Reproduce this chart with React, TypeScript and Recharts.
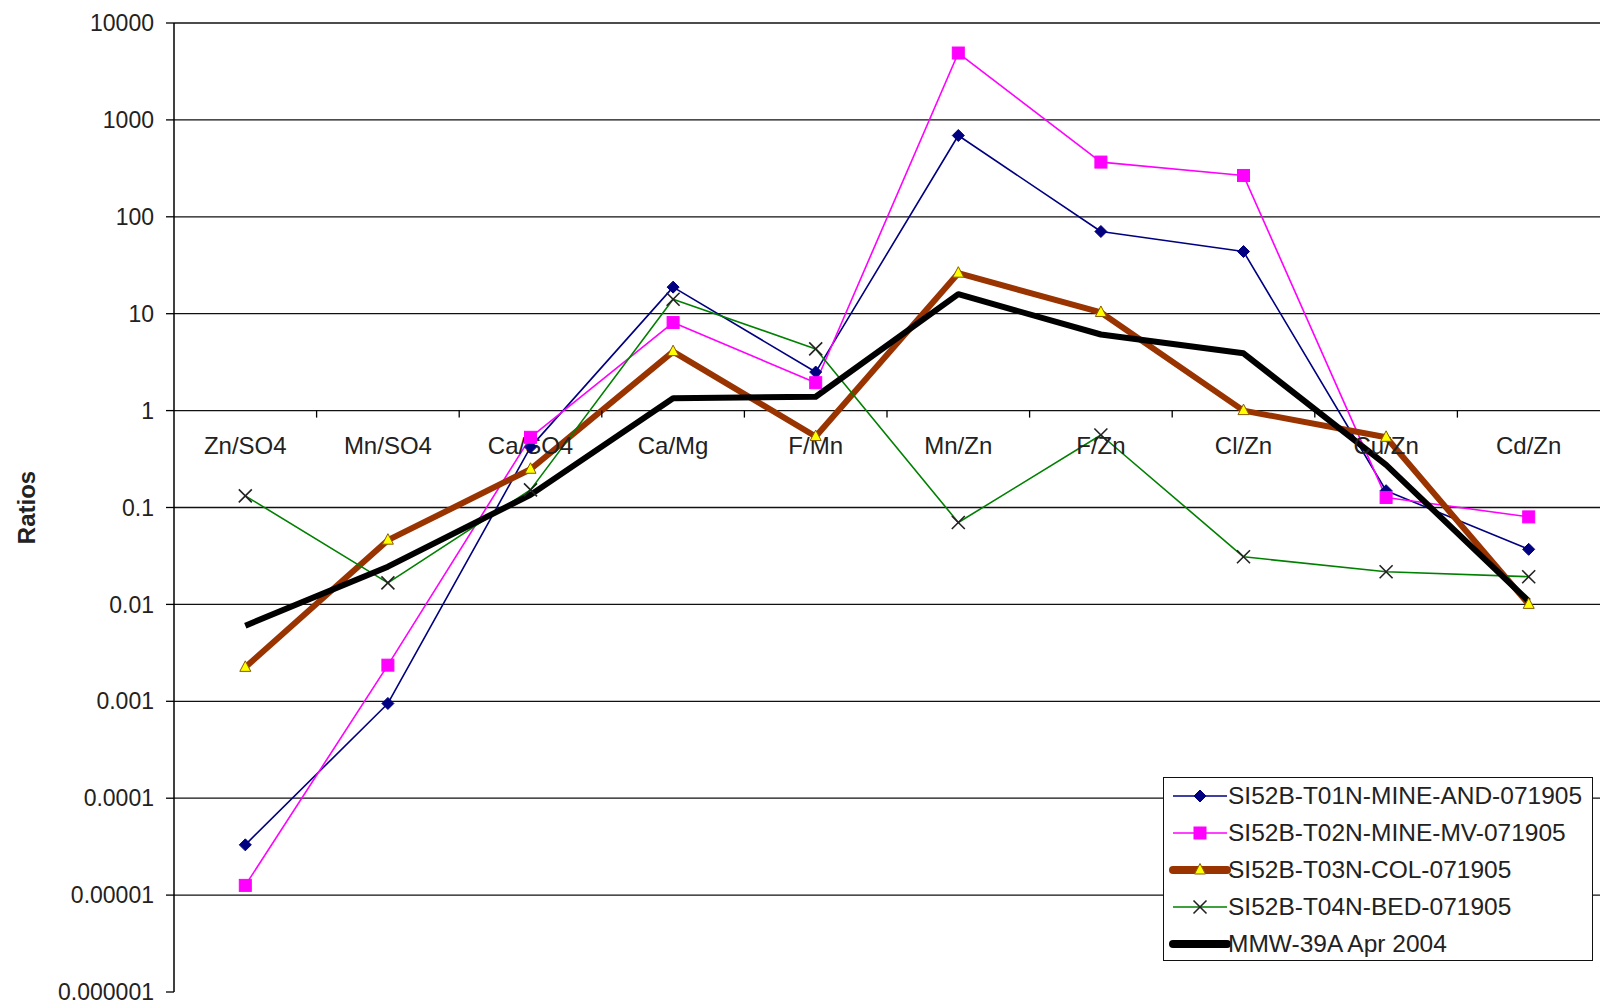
import React from 'react';
import { LineChart, Line, XAxis, YAxis, CartesianGrid, ReferenceDot, Legend } from 'recharts';

const categories = ['Zn/SO4', 'Mn/SO4', 'Ca/SO4', 'Ca/Mg', 'F/Mn', 'Mn/Zn', 'F/Zn', 'Cl/Zn', 'Cu/Zn', 'Cd/Zn'];
const t01nMineAnd = [0.000033, 0.00095, 0.42, 18.8, 2.5, 690, 70.5, 43.8, 0.149, 0.037];
const t02nMineMv = [0.0000126, 0.00236, 0.53, 8.1, 1.94, 4900, 367, 267, 0.127, 0.08];
const t03nCol = [0.00224, 0.046, 0.248, 4.06, 0.54, 26.2, 10.3, 1.0, 0.53, 0.01];
const t04nBed = [0.132, 0.0167, 0.152, 14.1, 4.33, 0.07, 0.56, 0.031, 0.0217, 0.0193];
const mmw39a = [0.00603, 0.0245, 0.135, 1.34, 1.39, 15.9, 6.1, 3.9, 0.275, 0.0108];

const seriesNames = [
  'SI52B-T01N-MINE-AND-071905',
  'SI52B-T02N-MINE-MV-071905',
  'SI52B-T03N-COL-071905',
  'SI52B-T04N-BED-071905',
  'MMW-39A Apr 2004',
];

const yTicks = [0.000001, 0.00001, 0.0001, 0.001, 0.01, 0.1, 1, 10, 100, 1000, 10000];
const yTickLabels = ['0.000001', '0.00001', '0.0001', '0.001', '0.01', '0.1', '1', '10', '100', '1000', '10000'];
const boundaries = [1, 2, 3, 4, 5, 6, 7, 8, 9];

const data = categories.map((c, i) => ({
  pos: i + 0.5,
  cat: c,
  s1: t01nMineAnd[i],
  s2: t02nMineMv[i],
  s3: t03nCol[i],
  s4: t04nBed[i],
  s5: mmw39a[i],
}));

const FONT = '"Liberation Sans", Arial, sans-serif';

const diamond = (cx: number, cy: number, key?: any) => (
  <polygon key={key} points={`${cx},${cy - 6} ${cx + 6},${cy} ${cx},${cy + 6} ${cx - 6},${cy}`} fill="#000080" stroke="#000080" strokeWidth={1} />
);
const square = (cx: number, cy: number, key?: any) => (
  <rect key={key} x={cx - 6} y={cy - 6} width={12} height={12} fill="#FF00FF" stroke="#FF00FF" strokeWidth={1} />
);
const triangle = (cx: number, cy: number, key?: any) => (
  <polygon key={key} points={`${cx},${cy - 6.5} ${cx + 5.5},${cy + 4} ${cx - 5.5},${cy + 4}`} fill="#FFFF00" stroke="#8a5a00" strokeWidth={1} />
);
const cross = (cx: number, cy: number, key?: any) => (
  <g key={key}>
    <line x1={cx - 6.5} y1={cy - 6.5} x2={cx + 6.5} y2={cy + 6.5} stroke="#222" strokeWidth={1.6} />
    <line x1={cx - 6.5} y1={cy + 6.5} x2={cx + 6.5} y2={cy - 6.5} stroke="#222" strokeWidth={1.6} />
  </g>
);

const mk = (fn: (cx: number, cy: number, key?: any) => any, name: string) => (p: any) => {
  if (p.cx == null || p.cy == null) return <g key={`${name}-${p.index}`} />;
  return fn(p.cx, p.cy, `${name}-${p.index}`);
};

const legendItems = [
  { color: '#000080', width: 1.6, marker: diamond },
  { color: '#FF00FF', width: 1.6, marker: square },
  { color: '#993300', width: 8, marker: triangle },
  { color: '#008000', width: 1.6, marker: cross },
  { color: '#000000', width: 8, marker: null as any },
];

const LegendBox = () => (
  <div
    style={{
      width: 430,
      height: 184,
      boxSizing: 'border-box',
      border: '1.5px solid #111',
      background: '#fff',
      fontFamily: FONT,
    }}
  >
    {seriesNames.map((n, i) => {
      const it = legendItems[i];
      return (
        <div key={n} style={{ height: 36.9, display: 'flex', alignItems: 'center' }}>
          <svg width={64} height={20} style={{ marginLeft: 4, flex: 'none' }}>
            <line x1={5} y1={10} x2={59} y2={10} stroke={it.color} strokeWidth={it.width} strokeLinecap={it.width > 4 ? 'round' : 'butt'} />
            {it.marker ? it.marker(32, 10) : null}
          </svg>
          <span style={{ fontSize: 24.5, color: '#222', whiteSpace: 'nowrap', marginLeft: -4 }}>{n}</span>
        </div>
      );
    })}
  </div>
);

export default function App() {
  return (
    <div style={{ position: 'absolute', left: 0, top: 0, width: 1600, height: 1004, background: '#fff' }}>
      <LineChart width={1600} height={1004} data={data} margin={{ top: 23, right: 0, bottom: 12, left: 0 }}>
        <CartesianGrid vertical={false} stroke="#111" strokeWidth={1.3} horizontalValues={yTicks.slice(1)} />
        <XAxis type="number" dataKey="pos" domain={[0, 10]} hide />
        <YAxis
          type="number"
          scale="log"
          domain={[0.000001, 10000]}
          ticks={yTicks}
          allowDataOverflow
          width={174}
          interval={0}
          tickFormatter={(v: number) => {
            const idx = yTicks.findIndex((t) => Math.abs(Math.log10(t) - Math.log10(v)) < 1e-6);
            return idx >= 0 ? yTickLabels[idx] : String(v);
          }}
          axisLine={{ stroke: '#000', strokeWidth: 1.5 }}
          tickLine={{ stroke: '#000', strokeWidth: 1.3 }}
          tickSize={8}
          tickMargin={12}
          tick={{ fontSize: 23, fill: '#222', fontFamily: FONT }}
          label={{
            content: (props: any) => {
              const vb = props.viewBox || { x: 0, y: 23, width: 174, height: 969 };
              const cx = 26;
              const cy = vb.y + vb.height / 2;
              return (
                <text
                  x={cx}
                  y={cy}
                  transform={`rotate(-90 ${cx} ${cy})`}
                  textAnchor="middle"
                  dominantBaseline="central"
                  style={{ fontSize: 24, fontWeight: 'bold', fill: '#222', fontFamily: FONT }}
                >
                  Ratios
                </text>
              );
            },
          }}
        />
        {boundaries.map((b) => (
          <ReferenceDot
            key={`tick-${b}`}
            x={b}
            y={1}
            r={0}
            shape={(p: any) => <line x1={p.cx} y1={p.cy} x2={p.cx} y2={p.cy + 7} stroke="#000" strokeWidth={1.3} />}
          />
        ))}
        {categories.map((c, i) => (
          <ReferenceDot
            key={`lab-${c}`}
            x={i + 0.5}
            y={1}
            r={0}
            shape={(p: any) => (
              <text
                x={p.cx}
                y={p.cy + 35}
                textAnchor="middle"
                dominantBaseline="central"
                style={{ fontSize: 24, fill: '#222', fontFamily: FONT }}
              >
                {c}
              </text>
            )}
          />
        ))}
        <Line dataKey="s1" name={seriesNames[0]} stroke="#000080" strokeWidth={1.6} dot={mk(diamond, 's1')} activeDot={false} isAnimationActive={false} strokeLinejoin="round" />
        <Line dataKey="s2" name={seriesNames[1]} stroke="#FF00FF" strokeWidth={1.6} dot={mk(square, 's2')} activeDot={false} isAnimationActive={false} strokeLinejoin="round" />
        <Line dataKey="s3" name={seriesNames[2]} stroke="#993300" strokeWidth={6} dot={mk(triangle, 's3')} activeDot={false} isAnimationActive={false} strokeLinejoin="round" />
        <Line dataKey="s4" name={seriesNames[3]} stroke="#008000" strokeWidth={1.6} dot={mk(cross, 's4')} activeDot={false} isAnimationActive={false} strokeLinejoin="round" />
        <Line dataKey="s5" name={seriesNames[4]} stroke="#000000" strokeWidth={6} dot={false} activeDot={false} isAnimationActive={false} strokeLinejoin="round" />
        <Legend
          layout="horizontal"
          verticalAlign="middle"
          align="center"
          wrapperStyle={{ left: 1163, top: 777, width: 430, height: 184 }}
          content={() => <LegendBox />}
        />
      </LineChart>
    </div>
  );
}
